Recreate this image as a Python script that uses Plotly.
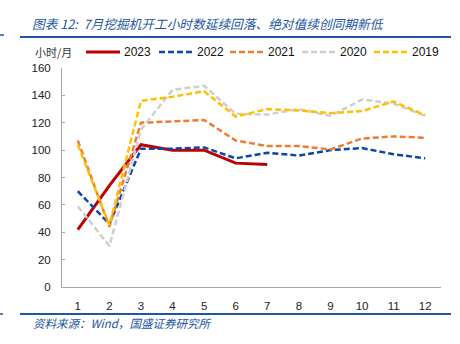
import plotly.graph_objects as go

months = [1, 2, 3, 4, 5, 6, 7, 8, 9, 10, 11, 12]
y2023 = [42, 74, 104, 100, 100, 90.5, 89.5]
y2022 = [70, 46, 101, 101, 102, 94, 98, 96, 100, 101.5, 97, 94]
y2021 = [107, 44, 120, 121, 122, 107, 103, 103, 100.5, 108.5, 110, 109]
y2020 = [59, 30, 115, 144, 147, 126.5, 126, 130, 125, 137, 134, 125]
y2019 = [104, 45, 136, 139, 143, 124.5, 130, 129, 127, 128.5, 135.5, 125.5]
y_ticks = [0, 20, 40, 60, 80, 100, 120, 140, 160]

title_text = "图表 12:  7月挖掘机开工小时数延续回落、绝对值续创同期新低"
source_text = "资料来源：Wind，国盛证券研究所"
unit_text = "小时/月"

series = [
    ("2023", y2023, "#C00000", "solid", 3),
    ("2022", y2022, "#0B46A8", "6px,3px", 2.5),
    ("2021", y2021, "#ED7D31", "6px,3px", 2.5),
    ("2020", y2020, "#CFCFCF", "6px,3px", 2.5),
    ("2019", y2019, "#FFC000", "6px,3px", 2.5),
]

# plot area in pixels
L, R, T, B = 62, 441, 68, 287
W, H = R - L, B - T


def px(xp):
    return (xp - L) / W


def py(yp):
    return (B - yp) / H


fig = go.Figure()
for name, vals, color, dash, w in series:
    fig.add_trace(go.Scatter(
        x=months[:len(vals)], y=vals, name=name, mode="lines",
        line=dict(color=color, dash=dash, width=w),
    ))

blue = "#2255A4"
annotations = [
    dict(text="<i>" + title_text + "</i>", xref="paper", yref="paper",
         x=px(30), y=py(23), xanchor="left", yanchor="middle",
         showarrow=False,
         font=dict(family="Noto Sans CJK SC", size=12.7, color=blue)),
    dict(text="<i>" + source_text + "</i>", xref="paper", yref="paper",
         x=px(31), y=py(323), xanchor="left", yanchor="middle",
         showarrow=False,
         font=dict(family="Noto Sans CJK SC", size=11.5, color=blue)),
    dict(text=unit_text, xref="paper", yref="paper",
         x=px(33), y=py(52), xanchor="left", yanchor="middle",
         showarrow=False,
         font=dict(family="Noto Sans CJK SC", size=11, color="#333333")),
]
shapes = [
    dict(type="line", xref="paper", yref="paper",
         x0=px(20), x1=px(451), y0=py(37), y1=py(37),
         line=dict(color=blue, width=2)),
    dict(type="line", xref="paper", yref="paper",
         x0=px(20), x1=px(451), y0=py(314), y1=py(314),
         line=dict(color=blue, width=2)),
    # fragments at the left edge
    dict(type="line", xref="paper", yref="paper",
         x0=px(0), x1=px(4), y0=py(35), y1=py(35),
         line=dict(color=blue, width=1.5)),
    dict(type="line", xref="paper", yref="paper",
         x0=px(0), x1=px(3), y0=py(314), y1=py(314),
         line=dict(color=blue, width=1.5)),
]

# manual legend
leg_x = [86, 159, 230, 302, 374]
for (name, vals, color, dash, w), lx in zip(series, leg_x):
    shapes.append(dict(type="line", xref="paper", yref="paper",
                       x0=px(lx), x1=px(lx + 34), y0=py(52), y1=py(52),
                       line=dict(color=color, dash=dash, width=w)))
    annotations.append(dict(text=name, xref="paper", yref="paper",
                            x=px(lx + 36), y=py(52), xanchor="left",
                            yanchor="middle", showarrow=False,
                            font=dict(size=12, color="#111111")))

fig.update_layout(
    width=460, height=344,
    margin=dict(l=L, r=460 - R, t=T, b=344 - B, autoexpand=False),
    paper_bgcolor="white", plot_bgcolor="white",
    font=dict(family="Liberation Sans, Arial, sans-serif", size=11.5, color="#222222"),
    showlegend=False,
    xaxis=dict(
        range=[0.5, 12.5], tickmode="array", tickvals=months,
        ticktext=[str(m) for m in months],
        showgrid=False, zeroline=False, showline=True, linecolor="#A6A6A6",
        linewidth=1, ticks="", ticklabelstandoff=8,
    ),
    yaxis=dict(
        range=[0, 160], tickmode="array", tickvals=y_ticks,
        showgrid=False, zeroline=False, showline=True, linecolor="#A6A6A6",
        linewidth=1, ticks="inside", ticklen=3, tickcolor="#A6A6A6",
        ticklabelstandoff=8,
    ),
    annotations=annotations,
    shapes=shapes,
)

fig.write_html("out.html")
